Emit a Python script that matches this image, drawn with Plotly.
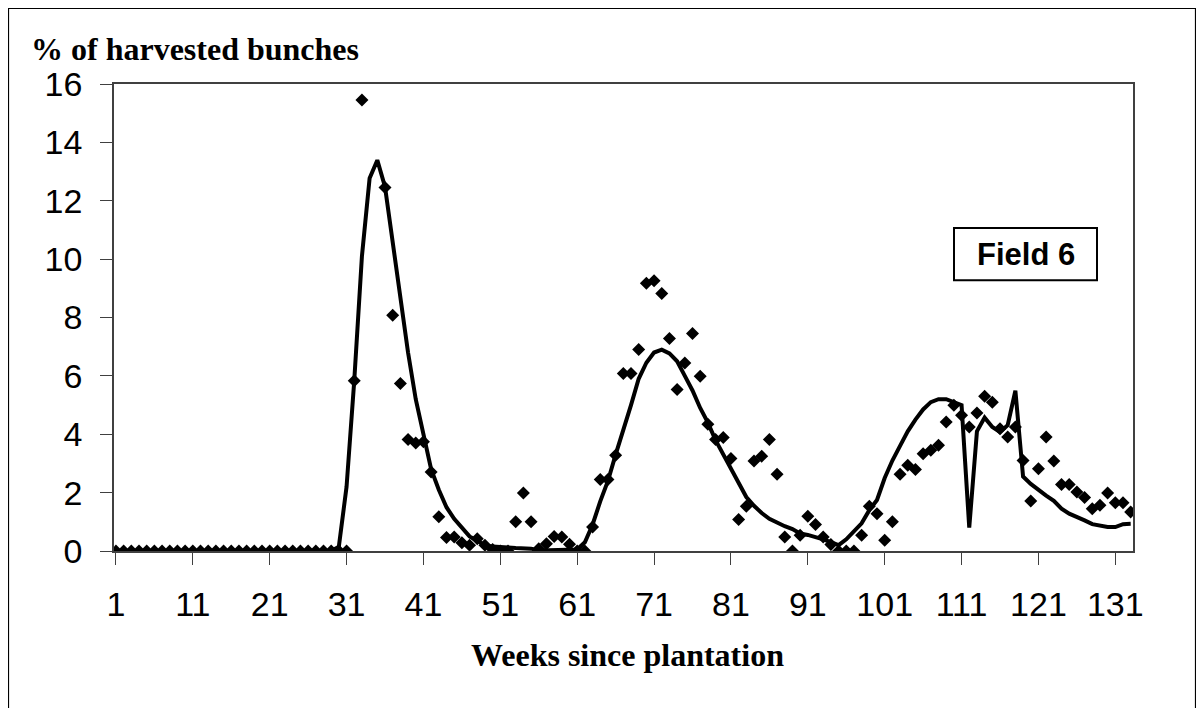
import plotly.graph_objects as go

# ---- data ----
weeks = list(range(1, 134))

observed = (
    [0.0] * 31 +
    [5.83, 15.45, None, None, 12.45, 8.08, 5.74, 3.82, 3.70, 3.74,      # 32-41
     2.71, 1.17, 0.46, 0.48, 0.28, 0.20, 0.42, 0.20, 0.05, 0.0,         # 42-51
     0.0, 1.00, 1.99, 1.00, 0.08, 0.25, 0.50, 0.48, 0.23, 0.0,          # 52-61
     0.0, 0.82, 2.45, 2.45, 3.28, 6.08, 6.08, 6.90, 9.17, 9.26,         # 62-71
     8.82, 7.28, 5.53, 6.44, 7.45, 5.99, 4.34, 3.82, 3.89, 3.17,        # 72-81
     1.08, 1.53, 3.08, 3.25, 3.82, 2.63, 0.48, 0.0, 0.54, 1.19,         # 82-91
     0.91, 0.48, 0.22, 0.0, 0.0, 0.0, 0.54, 1.53, 1.28, 0.37,           # 92-101
     1.00, 2.63, 2.94, 2.79, 3.33, 3.45, 3.62, 4.42, 4.99, 4.65,        # 102-111
     4.25, 4.73, 5.30, 5.10, 4.19, 3.91, 4.25, 3.10, 1.71, 2.82,        # 112-121
     3.91, 3.08, 2.28, 2.28, 2.02, 1.83, 1.45, 1.57, 1.99, 1.65,        # 122-131
     1.65, 1.34]                                                        # 132-133
)

simulated = (
    [0.0] * 29 +
    [0.15, 2.2, 5.83, 10.1, 12.77, 13.39, 12.48, 10.6, 8.7, 6.8,        # 30-39
     5.2, 4.0, 2.8, 2.1, 1.5, 1.1, 0.8, 0.5, 0.35, 0.2,                 # 40-49
     0.15, 0.12, 0.12, 0.1, 0.1, 0.08, 0.02, 0.02, 0.02, 0.02,          # 50-59
     0.02, 0.05, 0.3, 0.9, 1.7, 2.4, 3.3, 4.1, 5.0, 5.9,                # 60-69
     6.45, 6.8, 6.9, 6.77, 6.5, 6.0, 5.5, 4.9, 4.4, 3.8,                # 70-79
     3.3, 2.8, 2.3, 1.85, 1.55, 1.3, 1.1, 0.96, 0.85, 0.75,             # 80-89
     0.6, 0.55, 0.48, 0.4, 0.3, 0.2, 0.4, 0.7, 0.95, 1.4,               # 90-99
     1.75, 2.5, 3.1, 3.6, 4.1, 4.5, 4.85, 5.1, 5.2, 5.2,                # 100-109
     5.1, 5.0, 0.8, 4.1, 4.57, 4.25, 4.08, 4.31, 5.49, 2.55,            # 110-119
     2.3, 2.08, 1.9, 1.72, 1.45, 1.28, 1.18, 1.05, 0.92, 0.88,          # 120-129
     0.82, 0.82, 0.92, 0.93]                                            # 130-133
)

x_ticks = list(range(1, 132, 10))
y_ticks = list(range(0, 17, 2))

y_title = "% of harvested bunches"
x_title = "Weeks since plantation"
box_label = "Field 6"

# ---- figure ----
fig = go.Figure()
fig.add_trace(go.Scatter(
    x=weeks, y=simulated, mode="lines",
    line=dict(color="black", width=4), hoverinfo="skip", showlegend=False))
fig.add_trace(go.Scatter(
    x=weeks, y=observed, mode="markers",
    marker=dict(symbol="diamond", size=10, color="black"),
    showlegend=False))

# target plot-area edges in screen pixels (page body adds an 8px offset)
OFF = 8
L, R, T, B = 114, 1133, 84, 550.7
W, H = 1196, 700
pw, ph = R - L, B - T


def px(xp):
    return (xp - L) / pw


def py(yp):
    return (B - yp) / ph


axis_font = dict(family="Liberation Sans, Arial, sans-serif", size=34, color="black")
serif_font = dict(family="Liberation Serif, Times New Roman, serif", size=32, color="black")

fig.update_layout(
    width=W, height=H,
    margin=dict(l=L - OFF, r=W - (R - OFF), t=T - OFF, b=H - (B - OFF), pad=0),
    paper_bgcolor="white", plot_bgcolor="white",
    xaxis=dict(range=[0.75, 133.3], tickvals=x_ticks, ticktext=[str(v) for v in x_ticks],
               showgrid=False, zeroline=False, showline=True, linecolor="#404040",
               linewidth=1.5, mirror=True, ticks="outside", ticklen=12,
               tickcolor="#404040", tickwidth=1.2, tickfont=axis_font,
               ticklabelstandoff=10, automargin=False),
    yaxis=dict(range=[0, 16], tickvals=y_ticks, showgrid=False, zeroline=False,
               showline=True, linecolor="#404040", linewidth=1.5, mirror=True,
               ticks="outside", ticklen=12, tickcolor="#404040", tickwidth=1.2,
               tickfont=axis_font, ticklabelstandoff=11, automargin=False),
    annotations=[
        dict(text=f"<b>{y_title}</b>", xref="paper", yref="paper",
             x=px(29), y=py(49), xanchor="left", yanchor="middle", showarrow=False,
             font=serif_font),
        dict(text=f"<b>{x_title}</b>", xref="paper", yref="paper",
             x=px(627), y=py(655), xanchor="center", yanchor="middle", showarrow=False,
             font=serif_font),
        dict(text=f"<b>{box_label}</b>", xref="paper", yref="paper",
             x=px(1025.5), y=py(254), xanchor="center", yanchor="middle", showarrow=False,
             font=dict(family="Liberation Sans, Arial, sans-serif", size=31, color="black")),
    ],
    shapes=[
        dict(type="rect", xref="paper", yref="paper",
             x0=px(954), x1=px(1097), y0=py(280), y1=py(228),
             line=dict(color="black", width=2), fillcolor="white", layer="below"),
        dict(type="rect", xref="paper", yref="paper",
             x0=px(8.5), x1=px(1195.5), y0=py(712), y1=py(8.5),
             line=dict(color="black", width=1.2), fillcolor="rgba(0,0,0,0)", layer="below"),
    ],
)

fig.write_html("out.html")
